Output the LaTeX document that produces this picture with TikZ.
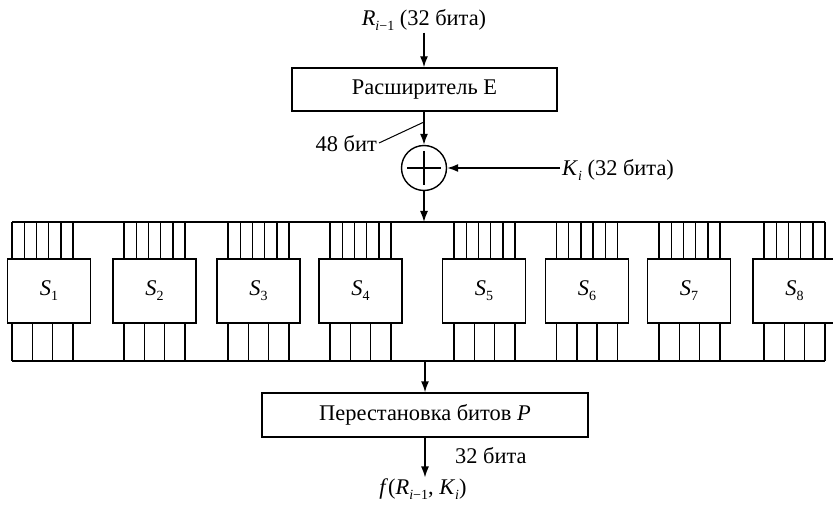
\documentclass[tikz,border=0pt]{standalone}
\usepackage{fontspec}
\setmainfont{Liberation Serif}
\usetikzlibrary{arrows.meta}
\newcommand{\lowsub}[1]{\raisebox{-0.22em}{\fontsize{14}{14}\selectfont #1}}
\begin{document}
\begin{tikzpicture}[x=1pt,y=-1pt,
  ln/.style={line width=1.4pt},
  arr/.style={ln,-{Latex[length=11pt,width=8pt]}},
  box/.style={draw,line width=1.4pt,rectangle,inner sep=0pt},
  lbl/.style={inner sep=2pt,font=\fontsize{22.4}{26}\selectfont}]
\useasboundingbox (0,0) rectangle (833,505);
% top input
\node[lbl] (rin) at (424,20) {\textit{R}\lowsub{\textit{i}−1} (32 бита)};
\node[box,lbl,minimum width=265pt,minimum height=43pt] (E) at (424.5,89.5) {Расширитель E};
\draw[arr] (rin.south) -- (E.north -| rin.south);
% xor
\node[draw,circle,line width=1.4pt,minimum size=45pt,inner sep=0pt] (xor) at (424,168) {};
\draw[ln] (xor.center) ++(-17,0) -- ++(34,0);
\draw[ln] (xor.center) ++(0,-17) -- ++(0,34);
\draw[arr] (E.south -| xor.north) -- (xor.north);
\node[lbl,anchor=east] (b48) at (379,144) {48 бит};
\coordinate (tap) at (424,122);
\draw[line width=1pt] (b48.east) ++(0,-1) -- (tap);
\node[lbl,anchor=west] (ki) at (560,170) {\textit{K}\lowsub{\textit{i}} (32 бита)};
\draw[arr] (ki.west |- xor.east) -- (xor.east);
% buses
\coordinate (busTL) at (12,222);
\coordinate (busTR) at (825,222);
\coordinate (busBL) at (12,361);
\coordinate (busBR) at (825,361);
\coordinate (bt) at (424,222);
\coordinate (bb) at (425,361);
\draw[arr] (xor.south) -- (bt);
\draw[ln] (busTL) -- (busTR);
\draw[ln] (busBL) -- (busBR);
% S-boxes
\foreach \i/\bc/\lc in {1/49/42.5, 2/154.5/154.5, 3/258.5/258.5, 4/360.5/360.5, 5/484/484.5, 6/587/587, 7/689/689.5, 8/794.5/794.5} {
  \node[box,lbl,minimum width=83pt,minimum height=64pt] (S\i) at (\bc,291) {\textit{S}\lowsub{\i}};
  \foreach \k in {0,...,5} \draw[ln] ({\lc-30.5+\k*12.2},222) -- ({\lc-30.5+\k*12.2},259);
  \foreach \k in {0,...,3} \draw[ln] ({\lc-30.5+\k*20.333},323) -- ({\lc-30.5+\k*20.333},361);
}
% permutation
\node[box,lbl,minimum width=326pt,minimum height=44pt] (P) at (425,415) {Перестановка битов \textit{P}};
\draw[arr] (bb) -- (P.north);
\node[lbl,inner sep=1pt] (out) at (423,489) {\textit{f}(\textit{R}\lowsub{\textit{i}−1}, \textit{K}\lowsub{\textit{i}})};
\draw[arr] (P.south) -- (out.north -| P.south);
\node[lbl,anchor=west] (b32) at (453,456) {32 бита};
\end{tikzpicture}
\end{document}
